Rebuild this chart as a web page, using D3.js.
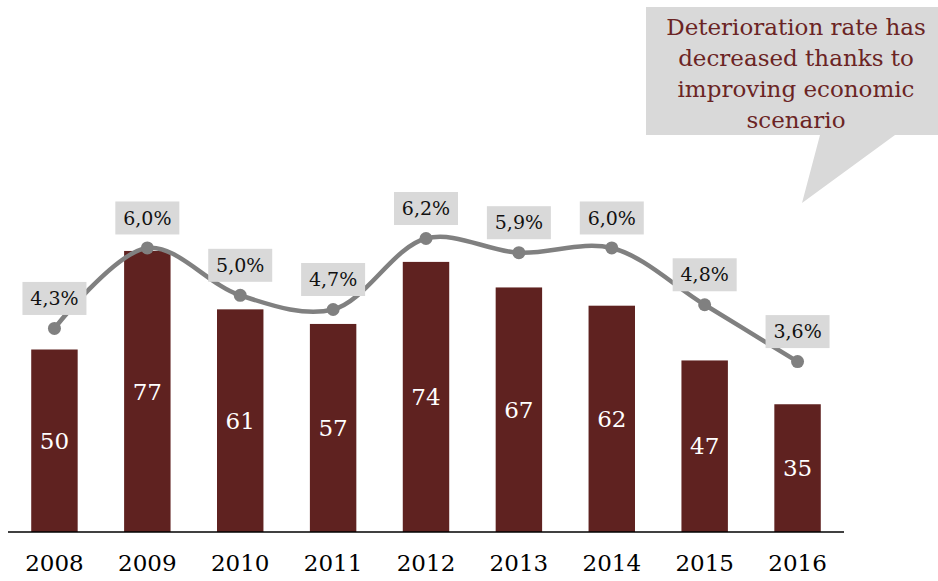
<!DOCTYPE html>
<html>
<head>
<meta charset="utf-8">
<script src="https://cdn.jsdelivr.net/npm/d3@7"></script>
<style>
  html, body { margin: 0; padding: 0; background: #fff; }
  svg { display: block; }
  text { font-family: "DejaVu Serif", "Liberation Serif", serif; }
</style>
</head>
<body>
<svg id="chart" width="938" height="581"></svg>
<script>
// Deteriorated loans (bars) and deterioration rate (line), 2008–2016
const years = ["2008", "2009", "2010", "2011", "2012", "2013", "2014", "2015", "2016"];
const volumes = [50, 77, 61, 57, 74, 67, 62, 47, 35];
const rates = [4.3, 6.0, 5.0, 4.7, 6.2, 5.9, 6.0, 4.8, 3.6];
const rateLabels = ["4,3%", "6,0%", "5,0%", "4,7%", "6,2%", "5,9%", "6,0%", "4,8%", "3,6%"];
const calloutLines = ["Deterioration rate has", "decreased thanks to", "improving economic", "scenario"];

const svg = d3.select("#chart");
const baseline = 532;

const x = d3.scaleBand().domain(years).range([8, 844]).paddingInner(0.5).paddingOuter(0.25);
const yBar = d3.scaleLinear().domain([0, 80]).range([baseline, 240]);
const yRate = d3.scaleLinear().domain([0, 6.2]).range([baseline, 238.5]);

const barColor = "#5f2220";
const lineColor = "#808080";
const boxColor = "#d9d9d9";

// bars
svg.append("g").selectAll("rect")
  .data(years)
  .join("rect")
  .attr("x", d => x(d))
  .attr("y", (d, i) => yBar(volumes[i]))
  .attr("width", x.bandwidth())
  .attr("height", (d, i) => baseline - yBar(volumes[i]))
  .attr("fill", barColor);

// values inside bars
svg.append("g").selectAll("text")
  .data(years)
  .join("text")
  .attr("x", d => x(d) + x.bandwidth() / 2)
  .attr("y", (d, i) => (yBar(volumes[i]) + baseline) / 2)
  .attr("dy", "0.35em")
  .attr("text-anchor", "middle")
  .attr("fill", "#fff")
  .attr("font-size", 23)
  .text((d, i) => volumes[i]);

// x axis
const axis = svg.append("g")
  .attr("transform", `translate(0,${baseline})`)
  .call(d3.axisBottom(x).tickSize(0).tickPadding(23));
axis.select(".domain").attr("stroke", "#000").attr("stroke-width", 1.6)
  .attr("d", "M8,0H844");
axis.selectAll(".tick text")
  .attr("font-family", "DejaVu Serif, serif")
  .attr("font-size", 23)
  .attr("fill", "#000");

// rate line
const cx = (d, i) => x(years[i]) + x.bandwidth() / 2;
const line = d3.line()
  .x((d, i) => cx(d, i))
  .y(d => yRate(d))
  .curve(d3.curveCatmullRom.alpha(0.5));

svg.append("path")
  .datum(rates)
  .attr("d", line)
  .attr("fill", "none")
  .attr("stroke", lineColor)
  .attr("stroke-width", 4.5);

svg.append("g").selectAll("circle")
  .data(rates)
  .join("circle")
  .attr("cx", cx)
  .attr("cy", d => yRate(d))
  .attr("r", 6.5)
  .attr("fill", lineColor);

// rate labels on grey boxes
const lbl = svg.append("g").selectAll("g")
  .data(rates)
  .join("g")
  .attr("transform", (d, i) => `translate(${cx(d, i)},${yRate(d) - 30})`);
lbl.append("rect")
  .attr("x", -32).attr("y", -16.5)
  .attr("width", 64).attr("height", 33)
  .attr("fill", boxColor);
lbl.append("text")
  .attr("text-anchor", "middle")
  .attr("dy", "0.35em")
  .attr("font-size", 19)
  .attr("fill", "#111")
  .text((d, i) => rateLabels[i]);

// callout with pointer
const callout = svg.append("g");
callout.append("path")
  .attr("d", "M646,7H938V135H895L802,203L820,135H646Z")
  .attr("fill", boxColor);
callout.append("g").selectAll("text")
  .data(calloutLines)
  .join("text")
  .attr("x", 796)
  .attr("y", (d, i) => 35 + i * 31)
  .attr("text-anchor", "middle")
  .attr("font-size", 23)
  .attr("fill", "#6b2424")
  .text(d => d);
</script>
</body>
</html>
